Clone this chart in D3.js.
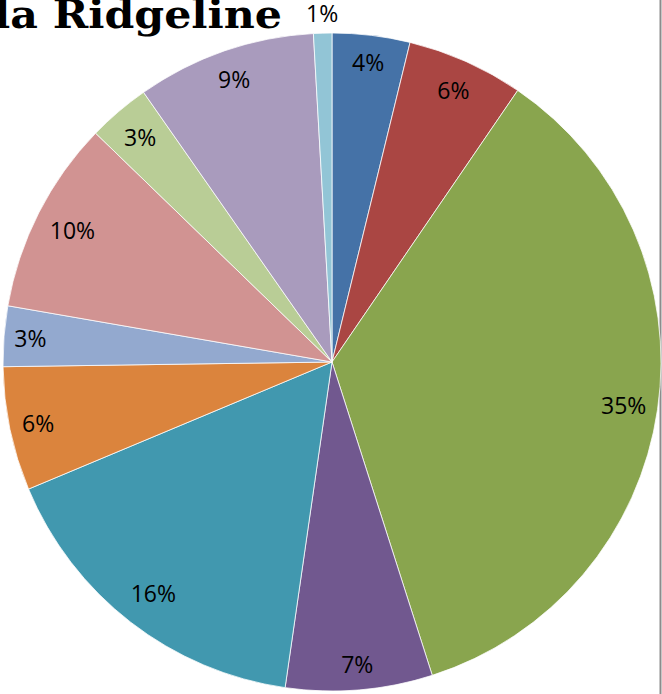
<!DOCTYPE html>
<html>
<head>
<meta charset="utf-8">
<script src="https://cdn.jsdelivr.net/npm/d3@7"></script>
<style>
  html, body { margin: 0; padding: 0; background: #fff; overflow: hidden; }
  svg { display: block; }
</style>
</head>
<body>
<script>
// ---- data ----
const categories = ["Category 1","Category 2","Category 3","Category 4","Category 5","Category 6",
                    "Category 7","Category 8","Category 9","Category 10","Category 11"];
const values = [3.81, 5.73, 35.5, 7.2, 16.4, 6.08, 2.96, 9.5, 3.05, 8.8, 0.9];
const labels = ["4%","6%","35%","7%","16%","6%","3%","10%","3%","9%","1%"];
const colors = ["#4572A7","#AA4643","#89A54E","#71588F","#4198AF","#DB843D",
                "#93A9CF","#D19392","#B9CD96","#A99BBD","#92C5D6"];
const titleText = "la Ridgeline";

// ---- chart ----
const W = 662, H = 694;
const cx = 332, cy = 362, R = 329;

const svg = d3.select("body").append("svg").attr("width", W).attr("height", H);

// plot-area border on the right
svg.append("line")
  .attr("x1", 660.5).attr("x2", 660.5).attr("y1", 0).attr("y2", H)
  .attr("stroke", "#8c8c8c").attr("stroke-width", 2);

const pie = d3.pie().sort(null).value(d => d.value)
  .startAngle(0).endAngle(2 * Math.PI);
const data = values.map((v, i) => ({ cat: categories[i], value: v, label: labels[i], color: colors[i] }));
const arcs = pie(data);

const arc = d3.arc().innerRadius(0).outerRadius(R);
const g = svg.append("g").attr("transform", `translate(${cx},${cy})`);

g.selectAll("path.slice").data(arcs).enter().append("path")
  .attr("class", "slice")
  .attr("d", arc)
  .attr("fill", d => d.data.color)
  .attr("stroke", "rgba(255,255,255,0.75)")
  .attr("stroke-width", 1);

// labels: best-fit inside end (box kept inside the circle), tiny slices outside
const padX = 8, padY = 14, textH = 18;
const outLabel = d3.arc().innerRadius(349).outerRadius(349);

const lbl = g.selectAll("text.lbl").data(arcs).enter().append("text")
  .attr("class", "lbl")
  .attr("text-anchor", "middle")
  .attr("dominant-baseline", "central")
  .attr("font-family", "'Open Sans', sans-serif")
  .attr("font-size", 23)
  .attr("fill", "#000")
  .text(d => d.data.label);

lbl.each(function(d) {
  const small = (d.endAngle - d.startAngle) < 0.1;
  let px, py;
  if (small) {
    [px, py] = outLabel.centroid(d);
  } else {
    const a = (d.startAngle + d.endAngle) / 2;
    const ux = Math.sin(a), uy = -Math.cos(a);
    const hw = this.getComputedTextLength() / 2 + padX;
    const hh = textH / 2 + padY;
    const fits = r => {
      const x = ux * r, y = uy * r;
      return [[-1,-1],[1,-1],[-1,1],[1,1]].every(([sx, sy]) => {
        const X = x + sx * hw, Y = y + sy * hh;
        return X * X + Y * Y <= R * R;
      });
    };
    let lo = 0, hi = R;
    for (let k = 0; k < 40; k++) {
      const m = (lo + hi) / 2;
      if (fits(m)) lo = m; else hi = m;
    }
    px = ux * lo; py = uy * lo;
  }
  d3.select(this).attr("transform", `translate(${px},${py})`);
});

// title (cut off at the left edge)
svg.append("text")
  .attr("x", -6).attr("y", 28)
  .attr("textLength", 288)
  .attr("lengthAdjust", "spacingAndGlyphs")
  .attr("font-family", "'DejaVu Serif', serif")
  .attr("font-weight", "bold")
  .attr("font-size", 40)
  .attr("fill", "#000")
  .text(titleText);
</script>
</body>
</html>
